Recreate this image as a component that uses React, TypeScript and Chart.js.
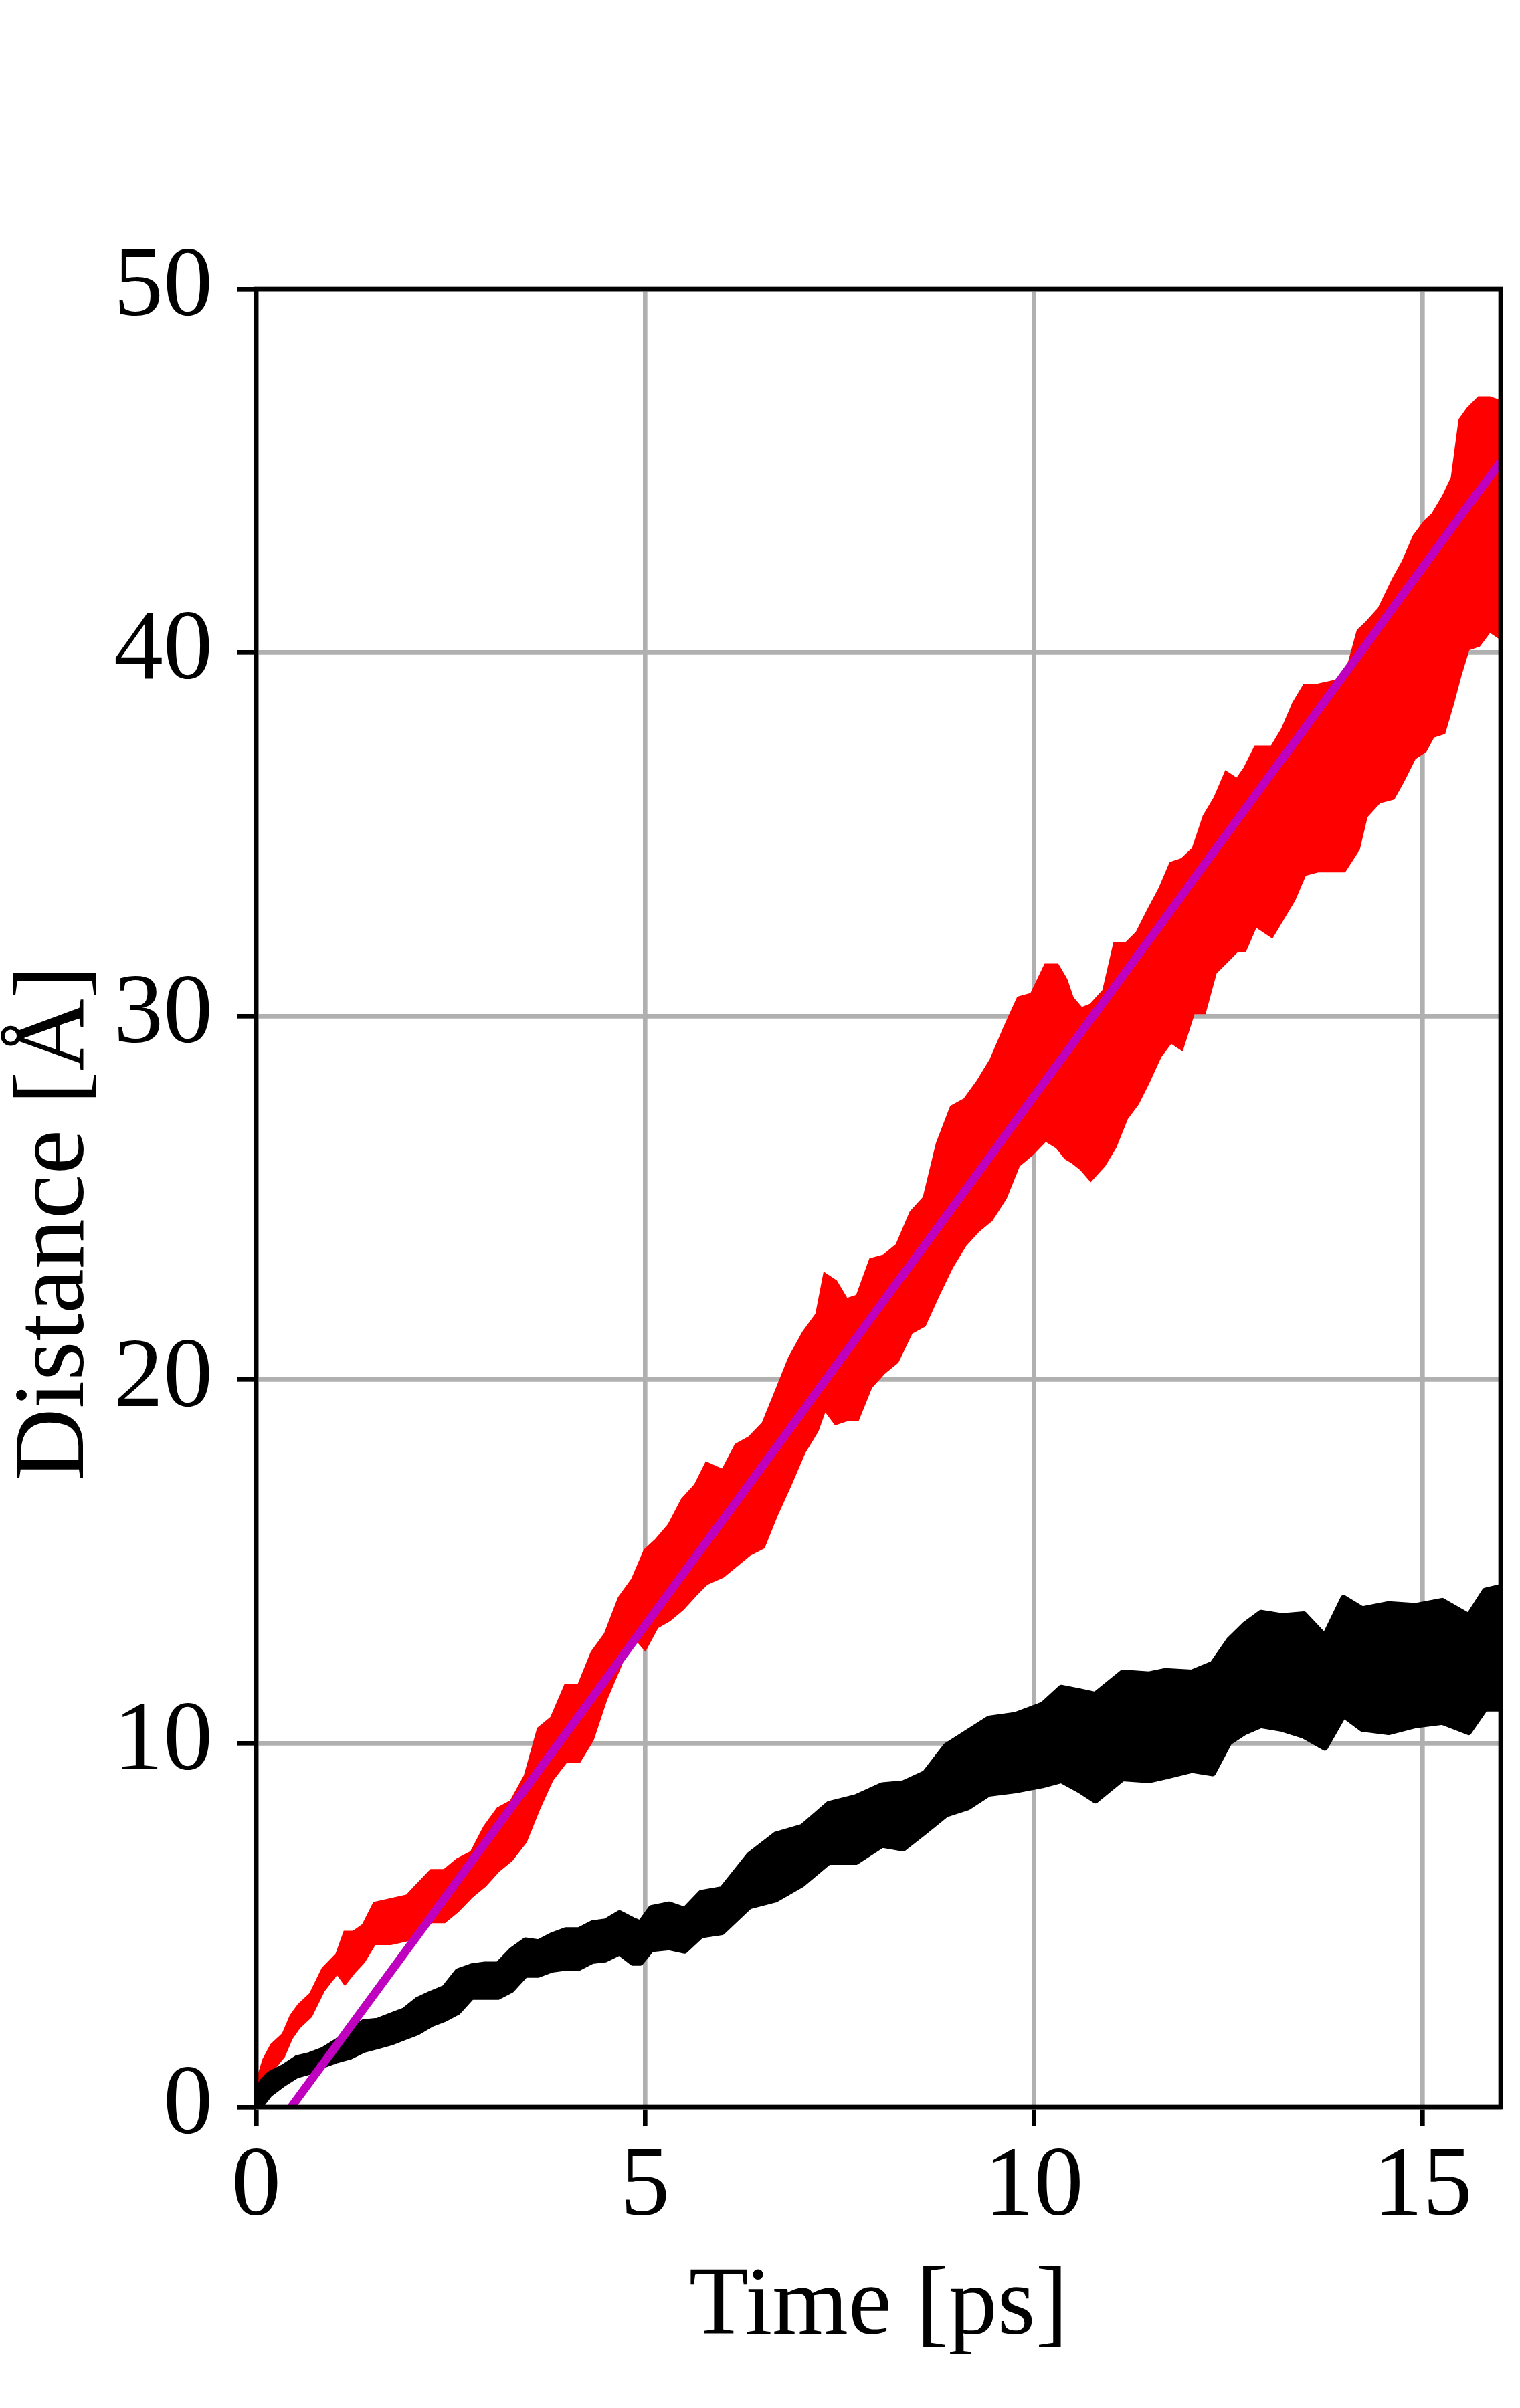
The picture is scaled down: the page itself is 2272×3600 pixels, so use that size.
import React, { useEffect, useRef } from 'react';
import { Chart, registerables } from 'chart.js';

Chart.register(...registerables);

// ---------- data ----------
const xTickValues = [0, 5, 10, 15];
const yTickValues = [0, 10, 20, 30, 40, 50];
const xAxisLabel = 'Time [ps]';
const yAxisLabel = 'Distance [Å]\u2002';

// red trajectory: band between lower and upper envelope of the fast oscillation
const redTime = [
  0.0, 0.1, 0.2, 0.35, 0.45, 0.55, 0.7, 0.86, 1.04, 1.14, 1.25, 1.38, 1.52, 1.73, 1.94, 2.07,
  2.25, 2.42, 2.59, 2.77, 2.94, 3.11, 3.28, 3.46, 3.63, 3.8, 3.98, 4.15, 4.32, 4.49, 4.67, 4.84,
  5.0, 5.15, 5.31, 5.48, 5.65, 5.79, 6.0, 6.17, 6.34, 6.52, 6.69, 6.86, 7.04, 7.21, 7.31, 7.45,
  7.59, 7.73, 7.9, 8.07, 8.24, 8.42, 8.59, 8.76, 8.94, 9.11, 9.28, 9.45, 9.63, 9.8, 9.97, 10.15,
  10.3, 10.41, 10.49, 10.61, 10.73, 10.9, 11.04, 11.19, 11.33, 11.47, 11.62, 11.76, 11.9, 12.05,
  12.19, 12.33, 12.47, 12.61, 12.71, 12.85, 13.06, 13.2, 13.34, 13.48, 13.65, 13.86, 13.99, 14.17,
  14.27, 14.44, 14.62, 14.75, 14.89, 15.03, 15.13, 15.27, 15.38, 15.48, 15.58, 15.72, 15.86, 16.0,
];
const redUpper = [
  0.6, 1.3, 1.7, 2.0, 2.5, 2.8, 3.1, 3.8, 4.2, 4.8, 4.8, 5.0, 5.6, 5.7, 5.8, 6.1,
  6.5, 6.5, 6.8, 7.0, 7.7, 8.2, 8.4, 9.1, 10.4, 10.7, 11.6, 11.6, 12.5, 13.0, 14.0, 14.5,
  15.3, 15.6, 16.0, 16.7, 17.1, 17.7, 17.5, 18.2, 18.4, 18.8, 19.7, 20.6, 21.3, 21.8, 22.9, 22.7,
  22.2, 22.3, 23.3, 23.4, 23.7, 24.6, 25.0, 26.5, 27.5, 27.7, 28.2, 28.8, 29.7, 30.5, 30.6, 31.4,
  31.4, 31.0, 30.5, 30.2, 30.3, 30.7, 32.0, 32.0, 32.3, 32.9, 33.5, 34.2, 34.3, 34.6,
  35.5, 36.0, 36.7, 36.5, 36.8, 37.4, 37.4, 37.9, 38.6, 39.1, 39.1, 39.2, 39.2, 40.6,
  40.8, 41.2, 42.0, 42.5, 43.2, 43.6, 43.8, 44.3, 44.8, 46.4, 46.7, 47.0, 47.0, 46.9,
];
const redLower = [
  0.0, 0.5, 1.0, 1.4, 1.9, 2.2, 2.5, 3.2, 3.7, 3.4, 3.7, 4.0, 4.5, 4.5, 4.6, 4.9,
  5.1, 5.1, 5.4, 5.8, 6.1, 6.5, 6.8, 7.3, 8.2, 9.0, 9.5, 9.5, 10.1, 11.2, 12.1, 13.0,
  12.6, 13.2, 13.4, 13.7, 14.1, 14.4, 14.6, 14.9, 15.2, 15.4, 16.3, 17.1, 18.0, 18.6, 19.2, 18.8,
  18.9, 18.9, 19.8, 20.2, 20.5, 21.3, 21.5, 22.3, 23.1, 23.7, 24.1, 24.4, 25.0, 25.9, 26.2, 26.6,
  26.4, 26.1, 26.0, 25.8, 25.5, 25.9, 26.4, 27.2, 27.6, 28.2, 28.9, 29.3, 29.1, 30.1,
  30.1, 31.2, 31.5, 31.8, 31.8, 32.5, 32.2, 32.7, 33.2, 33.9, 34.0, 34.0, 34.0, 34.6,
  35.5, 35.9, 36.0, 36.5, 37.1, 37.3, 37.7, 37.8, 38.6, 39.4, 40.1, 40.2, 40.6, 40.4,
];

// black trajectory
const blackTime = [
  0.0, 0.08, 0.17, 0.35, 0.52, 0.69, 0.86, 1.04, 1.21, 1.38, 1.56, 1.73, 1.9, 2.07, 2.25, 2.42,
  2.59, 2.77, 2.94, 3.11, 3.28, 3.46, 3.63, 3.8, 3.98, 4.15, 4.32, 4.49, 4.67, 4.84, 4.94, 5.08,
  5.31, 5.51, 5.72, 5.99, 6.34, 6.68, 7.02, 7.36, 7.71, 8.05, 8.32, 8.6, 8.87, 9.15, 9.42, 9.76,
  10.11, 10.35, 10.59, 10.79, 11.14, 11.48, 11.69, 12.03, 12.3, 12.51, 12.71, 12.92, 13.19, 13.47,
  13.74, 13.98, 14.22, 14.56, 14.91, 15.25, 15.59, 15.8, 16.0,
];
const blackUpper = [
  0.4, 0.7, 0.9, 1.1, 1.34, 1.43, 1.57, 1.81, 2.09, 2.33, 2.37, 2.51, 2.65, 2.94, 3.12, 3.27,
  3.73, 3.87, 3.92, 3.92, 4.3, 4.58, 4.53, 4.72, 4.86, 4.86, 5.05, 5.1, 5.33, 5.14, 5.05, 5.47,
  5.57, 5.42, 5.89, 5.99, 6.93, 7.49, 7.7, 8.33, 8.52, 8.85, 8.9, 9.18, 9.93, 10.31, 10.68, 10.78,
  11.06, 11.53, 11.43, 11.34, 11.95, 11.9, 11.99, 11.95, 12.19, 12.84, 13.26, 13.59, 13.5, 13.55,
  12.94, 14.0, 13.69, 13.83, 13.78, 13.92, 13.5, 14.2, 14.3,
];
const blackLower = [
  0.0, 0.1, 0.35, 0.64, 0.87, 0.97, 1.15, 1.29, 1.39, 1.57, 1.67, 1.77, 1.91, 2.05, 2.28, 2.42,
  2.61, 3.03, 3.03, 3.03, 3.22, 3.64, 3.64, 3.78, 3.83, 3.83, 4.02, 4.06, 4.25, 3.97, 3.97, 4.34,
  4.39, 4.3, 4.72, 4.81, 5.52, 5.71, 6.13, 6.74, 6.74, 7.21, 7.11, 7.58, 8.05, 8.24, 8.62, 8.71,
  8.85, 8.99, 8.71, 8.43, 9.04, 8.99, 9.09, 9.27, 9.18, 10.03, 10.31, 10.5, 10.4, 10.21,
  9.88, 10.78, 10.4, 10.31, 10.5, 10.59, 10.31, 10.96, 10.96,
];

// linear fit (magenta)
const fitTime = [0, 16];
const fitDistance = [-1.31, 45.25];

// ---------- styling ----------
const FONT = "'Liberation Serif', 'DejaVu Serif', serif";
const LW = 6.67;

const pts = (xs: number[], ys: number[]) => xs.map((x, i) => ({ x, y: ys[i] }));

const spinePlugin = {
  id: 'spines',
  afterDatasetsDraw(chart: any) {
    const { ctx, chartArea: a } = chart;
    ctx.save();
    ctx.strokeStyle = '#000';
    ctx.lineWidth = LW;
    ctx.lineJoin = 'miter';
    ctx.strokeRect(a.left, a.top, a.right - a.left, a.bottom - a.top);
    ctx.restore();
  },
};

export default function App() {
  const ref = useRef<HTMLCanvasElement | null>(null);

  useEffect(() => {
    if (!ref.current) return;
    const chart = new Chart(ref.current, {
      type: 'line',
      data: {
        datasets: [
          {
            data: pts(redTime, redLower),
            borderColor: '#ff0000',
            backgroundColor: '#ff0000',
            borderWidth: 5,
            pointRadius: 0,
            fill: false,
            order: 4,
          },
          {
            data: pts(redTime, redUpper),
            borderColor: '#ff0000',
            backgroundColor: '#ff0000',
            borderWidth: 5,
            pointRadius: 0,
            fill: '-1',
            order: 3,
          },
          {
            data: pts(blackTime, blackLower),
            borderColor: '#000000',
            backgroundColor: '#000000',
            borderWidth: 9,
            borderJoinStyle: 'round',
            borderCapStyle: 'round',
            pointRadius: 0,
            fill: false,
            order: 2,
          },
          {
            data: pts(blackTime, blackUpper),
            borderColor: '#000000',
            backgroundColor: '#000000',
            borderWidth: 9,
            borderJoinStyle: 'round',
            borderCapStyle: 'round',
            pointRadius: 0,
            fill: '-1',
            order: 1,
          },
          {
            data: pts(fitTime, fitDistance),
            borderColor: '#bf00bf',
            borderWidth: 12.5,
            pointRadius: 0,
            fill: false,
            order: 0,
          },
        ],
      } as any,
      options: {
        responsive: false,
        maintainAspectRatio: false,
        devicePixelRatio: 1,
        animation: false,
        events: [],
        layout: { padding: { left: 0, right: 29, top: 432, bottom: 0 } },
        plugins: {
          legend: { display: false },
          tooltip: { enabled: false },
        },
        elements: { line: { tension: 0 } },
        scales: {
          x: {
            type: 'linear',
            min: 0,
            max: 16,
            afterBuildTicks: (s: any) => {
              s.ticks = xTickValues.map((v) => ({ value: v }));
            },
            afterFit: (s: any) => {
              s.height = 450;
            },
            grid: {
              color: '#b0b0b0',
              lineWidth: LW,
              drawTicks: true,
              tickLength: 29,
              tickColor: '#000000',
              tickWidth: LW,
            },
            border: { display: false },
            ticks: {
              color: '#000000',
              font: { family: FONT, size: 148, lineHeight: 1 },
              padding: 19,
              maxRotation: 0,
              minRotation: 0,
              autoSkip: false,
              callback: (v: any) => String(v),
            },
            title: {
              display: true,
              text: xAxisLabel,
              color: '#000000',
              font: { family: FONT, size: 146, lineHeight: 1 },
              padding: { top: 0, bottom: 76 },
            },
          },
          y: {
            type: 'linear',
            min: 0,
            max: 50,
            afterBuildTicks: (s: any) => {
              s.ticks = yTickValues.map((v) => ({ value: v }));
            },
            afterFit: (s: any) => {
              s.width = 383;
            },
            grid: {
              color: '#b0b0b0',
              lineWidth: LW,
              drawTicks: true,
              tickLength: 29,
              tickColor: '#000000',
              tickWidth: LW,
            },
            border: { display: false },
            ticks: {
              color: '#000000',
              font: { family: FONT, size: 148, lineHeight: 1 },
              padding: 36,
              autoSkip: false,
              callback: (v: any) => String(v),
            },
            title: {
              display: true,
              text: yAxisLabel,
              color: '#000000',
              font: { family: FONT, size: 150, lineHeight: 1 },
              padding: { top: 10, bottom: 0 },
            },
          },
        },
      } as any,
      plugins: [spinePlugin],
    });
    return () => chart.destroy();
  }, []);

  return (
    <div style={{ position: 'absolute', left: 0, top: 0, width: 2272, height: 3600, background: '#ffffff' }}>
      <canvas ref={ref} width={2272} height={3600} style={{ display: 'block', width: 2272, height: 3600 }} />
    </div>
  );
}
